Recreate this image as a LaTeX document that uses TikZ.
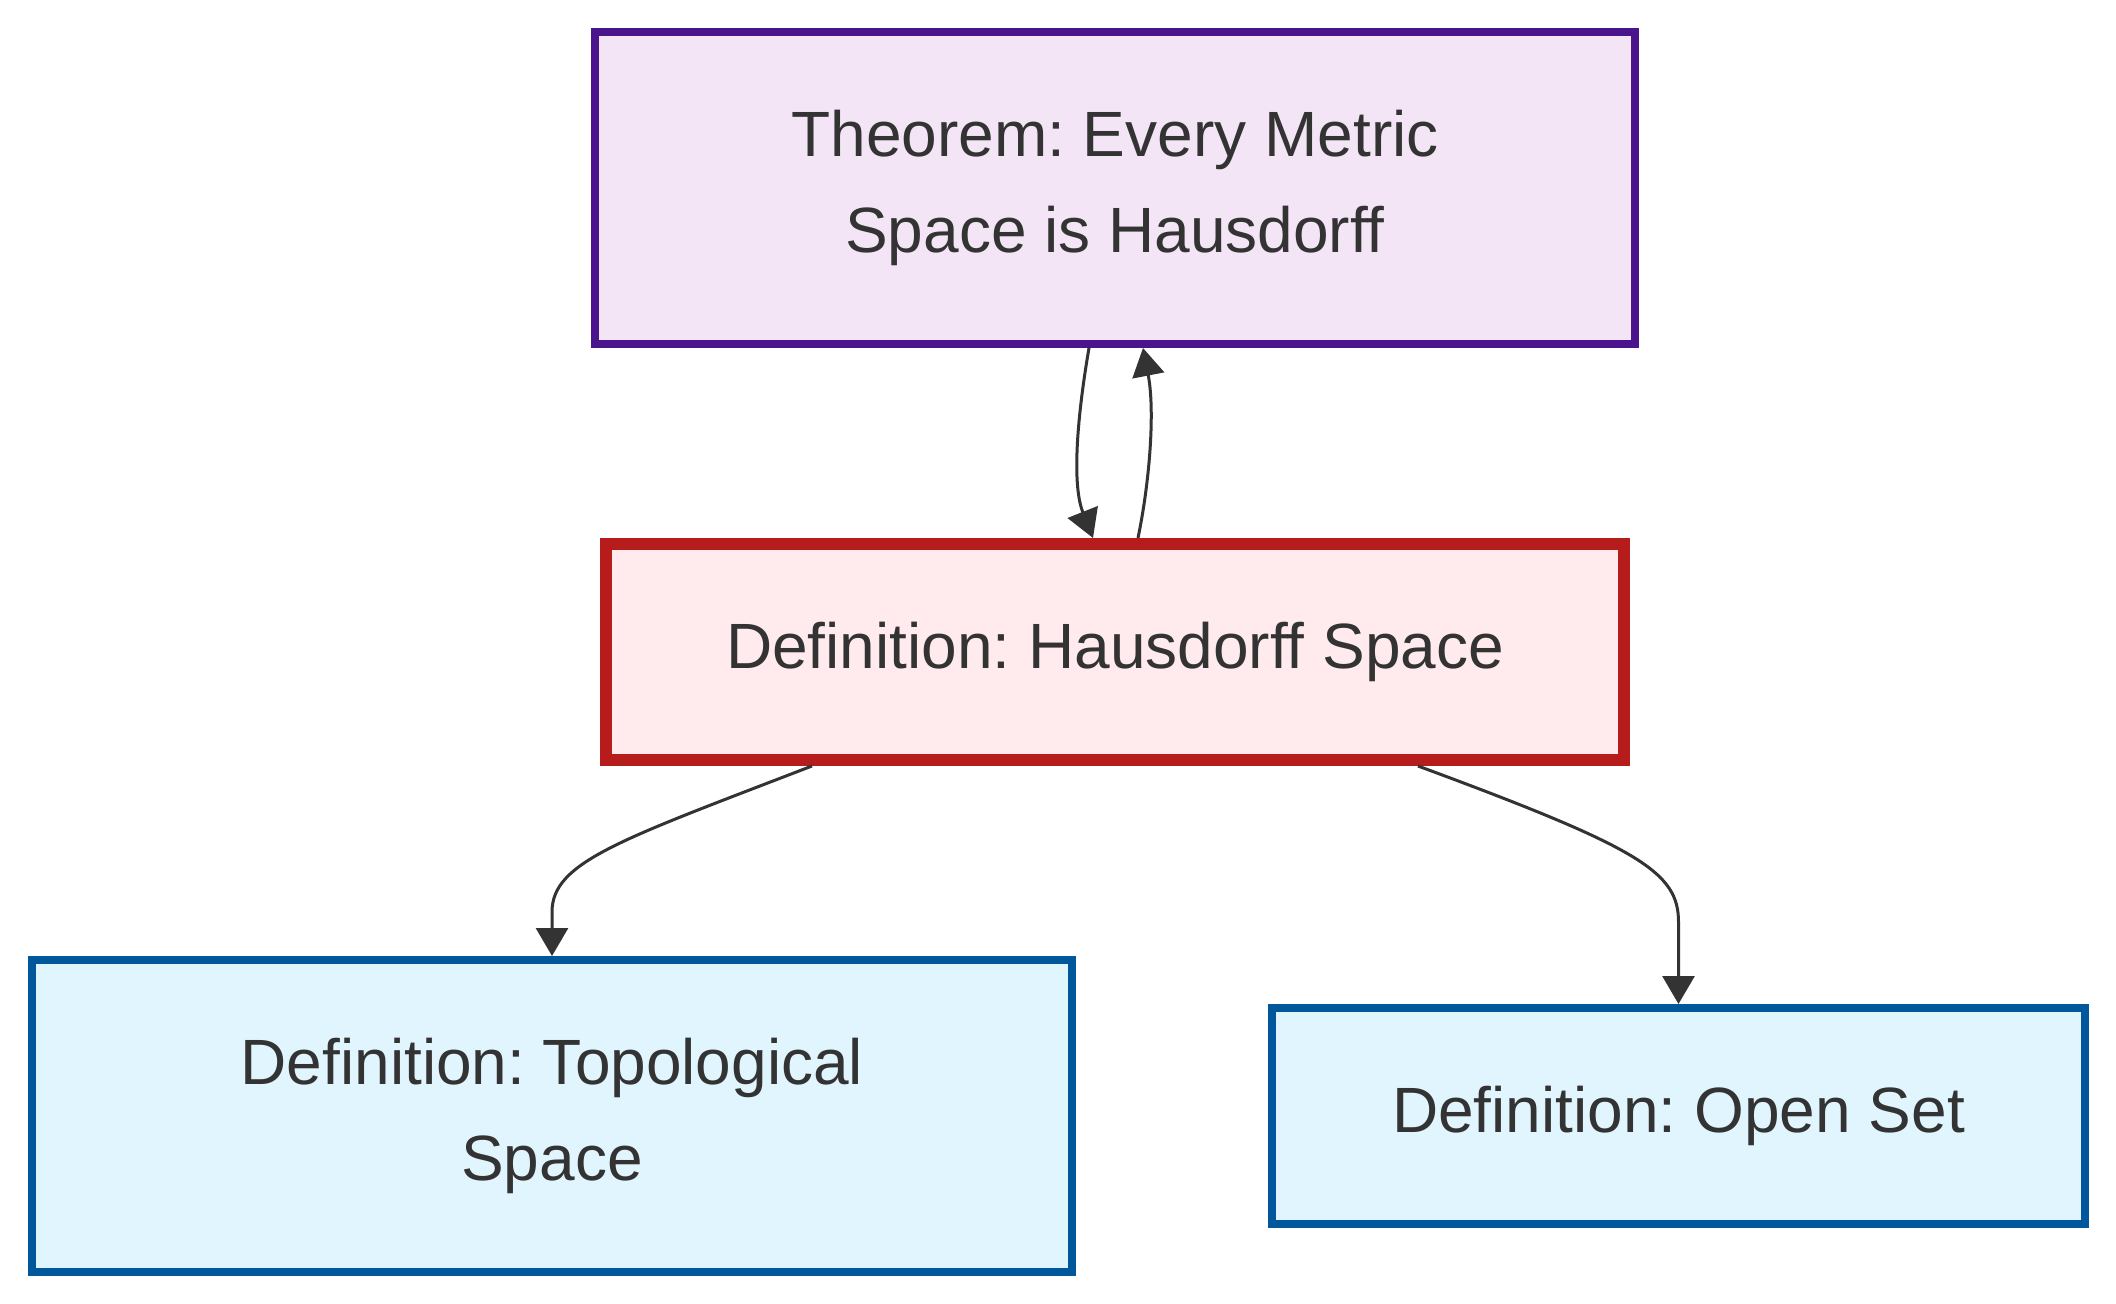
\documentclass[tikz,border=0pt]{standalone}
\usepackage{fontspec}
\setmainfont{Liberation Sans}
\usetikzlibrary{arrows.meta,calc}
\definecolor{txt}{HTML}{333333}
\definecolor{thfill}{HTML}{F3E5F5}
\definecolor{thdraw}{HTML}{4A148C}
\definecolor{hdfill}{HTML}{FFEBEE}
\definecolor{hddraw}{HTML}{B71C1C}
\definecolor{dffill}{HTML}{E1F5FE}
\definecolor{dfdraw}{HTML}{01579B}
\frenchspacing
\tikzset{
  box/.style={rectangle, text=txt, align=center, inner sep=0pt,
    font=\fontsize{32pt}{48pt}\selectfont},
  thbox/.style={box, fill=thfill, draw=thdraw, line width=4pt,
    minimum width=520pt, minimum height=156pt},
  hdbox/.style={box, fill=hdfill, draw=hddraw, line width=6pt,
    minimum width=509pt, minimum height=108pt},
  dfbox/.style={box, fill=dffill, draw=dfdraw, line width=4pt},
  link/.style={draw=txt, line width=1.5pt,
    -{Triangle[length=14pt,width=16pt]}}
}
\begin{document}
\begin{tikzpicture}[x=0.5pt,y=-0.5pt]
\useasboundingbox (0,0) rectangle (2116,1304);
\node[thbox] (th) at (1115,188) {Theorem: Every Metric\\Space is Hausdorff};
\node[hdbox] (hd) at (1115,652) {Definition: Hausdorff Space};
\node[dfbox, minimum width=520pt, minimum height=156pt] (tp) at (552,1116) {Definition: Topological\\Space};
\node[dfbox, minimum width=406.5pt, minimum height=108pt] (op) at (1678.5,1116) {Definition: Open Set};
\draw[link] ([xshift=-13pt]th.south) .. controls (1080,400) and (1070,480) .. ([xshift=-11pt]hd.north);
\draw[link] ([xshift=11.5pt]hd.north) .. controls (1150,480) and (1155,410) .. ([xshift=14pt]th.south);
\draw[link] ([xshift=-151.5pt]hd.south) .. controls (620,840) and (552,862) .. (552,912) -- (tp.north);
\draw[link] ([xshift=151.5pt]hd.south) .. controls (1640,848) and (1678.5,872) .. (1678.5,922) -- (op.north);
\end{tikzpicture}
\end{document}
